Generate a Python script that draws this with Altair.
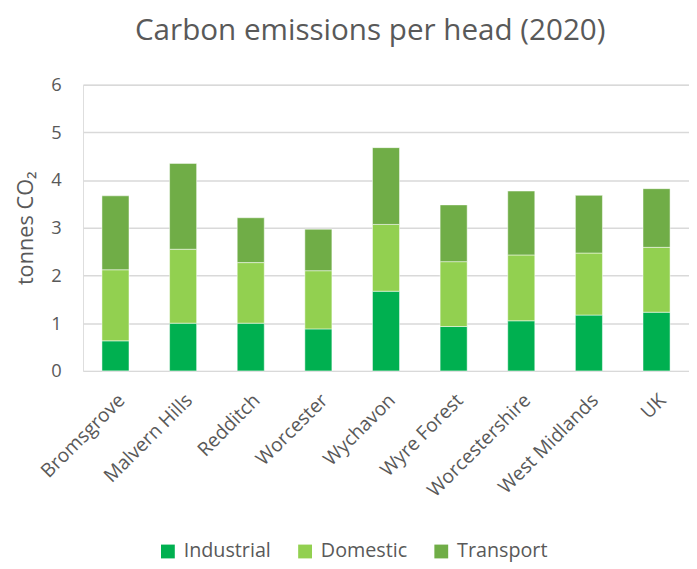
import altair as alt
import pandas as pd

areas = ["Bromsgrove", "Malvern Hills", "Redditch", "Worcester", "Wychavon",
         "Wyre Forest", "Worcestershire", "West Midlands", "UK"]
industrial = [0.63, 1.00, 1.00, 0.88, 1.67, 0.93, 1.05, 1.17, 1.23]
domestic = [1.49, 1.55, 1.27, 1.22, 1.40, 1.36, 1.38, 1.30, 1.36]
transport = [1.55, 1.80, 0.94, 0.87, 1.61, 1.19, 1.34, 1.21, 1.23]
sectors = ["Industrial", "Domestic", "Transport"]
colors = ["#00B050", "#92D050", "#70AD47"]

rows = []
for i, a in enumerate(areas):
    for s, vals in zip(sectors, [industrial, domestic, transport]):
        rows.append({"area": a, "sector": s, "value": vals[i], "order": sectors.index(s)})
df = pd.DataFrame(rows)

font = "Open Sans"
grey = "#595959"

chart = alt.Chart(df).mark_bar(stroke="white", strokeWidth=0.5).encode(
    x=alt.X("area:N", sort=areas, title=None,
            scale=alt.Scale(paddingInner=0.6, paddingOuter=0.28),
            axis=alt.Axis(labelAngle=-45, labelFontSize=19.5, labelColor=grey,
                          labelFont=font, domain=False, ticks=False, labelPadding=20)),
    y=alt.Y("value:Q", stack="zero", title="tonnes CO₂",
            scale=alt.Scale(domain=[0, 6], nice=False),
            axis=alt.Axis(values=[0, 1, 2, 3, 4, 5, 6], format="d", labelFontSize=18.5,
                          labelColor=grey, labelFont=font, domain=False, ticks=False,
                          gridColor="#d9d9d9", gridWidth=1.5, labelPadding=22,
                          titleFontSize=22, titleColor=grey, titleFont=font,
                          titleFontWeight="normal", titlePadding=14)),
    color=alt.Color("sector:N", sort=sectors,
                    scale=alt.Scale(domain=sectors, range=colors),
                    legend=alt.Legend(orient="none", legendX=76, legendY=463,
                                      title=None, direction="horizontal",
                                      labelFontSize=20, labelColor=grey, labelFont=font,
                                      symbolType="square", symbolSize=196, labelOffset=6,
                                      symbolStrokeWidth=0, columnPadding=24)),
    order=alt.Order("order:Q"),
).properties(
    width=614, height=290,
    title=alt.TitleParams("Carbon emissions per head (2020)", fontSize=30, color=grey,
                          font=font, fontWeight="normal", offset=30, anchor="middle",
                          dx=-16),
).configure_view(stroke=None).configure(padding={"left": 6, "top": 5, "right": 0, "bottom": 0})

chart.save("out.html", embed_options={"renderer": "svg", "actions": False})
